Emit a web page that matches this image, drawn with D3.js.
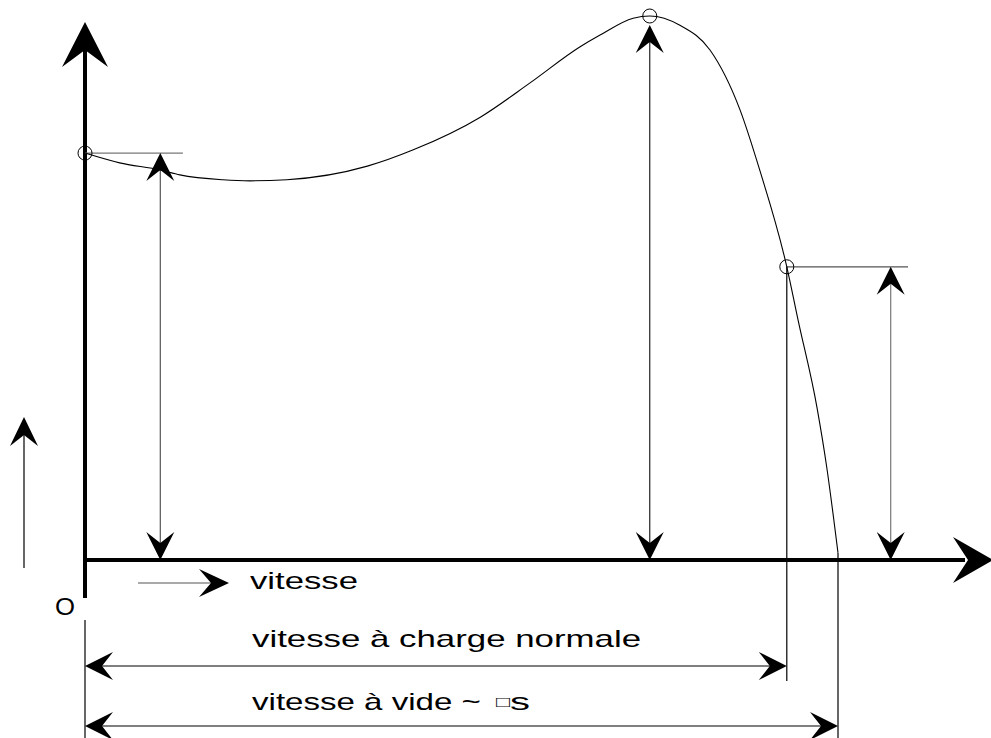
<!DOCTYPE html>
<html><head><meta charset="utf-8">
<script src="https://cdn.jsdelivr.net/npm/d3@7"></script>
<style>html,body{margin:0;padding:0;background:#fff;}svg{display:block;}</style>
</head><body>
<svg id="c" width="991" height="738"></svg>
<script>
// Torque-speed curve of an asynchronous motor (speed in % of synchronous speed, torque in % of max torque)
const speed  = [0, 4.6, 10.0, 12.6, 18.3, 21.9, 26.8, 37.5, 43.6, 52.5, 59.1, 65.7, 68.4, 72.8, 75.0, 79.0, 83.0, 87.0, 89.6, 93.2, 94.7, 97.2, 98.5, 100.0];
const torque = [74.8, 73.0, 71.7, 70.8, 69.9, 69.7, 69.9, 72.4, 75.4, 81.4, 87.7, 94.3, 96.5, 99.6, 100, 98.3, 93.75, 82.7, 71.7, 53.9, 44.1, 28.1, 17.1, 1.3];
// remarkable points: starting torque, maximum torque, nominal point
const markSpeed  = [0, 75.0, 93.2];
const markTorque = [74.8, 100, 53.9];
// dimension arrows (speed positions)
const startArrowSpeed = 10.0;
const nominalArrowSpeed = 107.0;
const labels = ["vitesse", "O", "vitesse à charge normale", "vitesse à vide ~ ", "□", "s"];

const svg = d3.select("#c");
const x = d3.scaleLinear().domain([0, 100]).range([85, 838]);
const y = d3.scaleLinear().domain([0, 100]).range([560, 16]);

function head(tx, ty, dir, L, W, N) {
  const c = Math.cos(dir), s = Math.sin(dir);
  const bx = tx - c * L, by = ty - s * L;
  const nx = tx - c * N, ny = ty - s * N;
  const px = -s * W, py = c * W;
  return `M${tx},${ty}L${bx + px},${by + py}L${nx},${ny}L${bx - px},${by - py}Z`;
}
const UP = -Math.PI / 2, DOWN = Math.PI / 2, RIGHT = 0, LEFT = Math.PI;
const g = svg.append("g");
function line(x1, y1, x2, y2, col, w) {
  g.append("line").attr("x1", x1).attr("y1", y1).attr("x2", x2).attr("y2", y2)
    .attr("stroke", col || "#000").attr("stroke-width", w || 1);
}
function arrowHead(tx, ty, dir, L, W, N) {
  g.append("path").attr("d", head(tx, ty, dir, L, W, N)).attr("fill", "#000");
}

// main axes
const x0 = x(0), y0 = y(0);
line(x0, 598, x0, 50, "#000", 4);
arrowHead(x0, 22, UP, 45, 23, 28);
line(x0 - 2, y0, 965, y0, "#000", 4);
arrowHead(993, y0, RIGHT, 40, 23, 25);

// start torque tick + double arrow
line(x(0), y(markTorque[0]), x(13), y(markTorque[0]), "#777", 1.2);
line(x(startArrowSpeed), y(markTorque[0]) + 15, x(startArrowSpeed), y0 - 15, "#555", 1.2);
arrowHead(x(startArrowSpeed), y(markTorque[0]), UP, 28, 14, 17);
arrowHead(x(startArrowSpeed), y0, DOWN, 28, 14, 17);

// max torque double arrow
line(x(markSpeed[1]), y(markTorque[1]) + 20, x(markSpeed[1]), y0 - 15, "#222", 1.2);
arrowHead(x(markSpeed[1]), y(markTorque[1]) + 9, UP, 28, 14, 17);
arrowHead(x(markSpeed[1]), y0, DOWN, 28, 14, 17);

// nominal torque tick + double arrow
line(x(markSpeed[2]), y(markTorque[2]), x(109.3), y(markTorque[2]), "#555", 1.2);
line(x(nominalArrowSpeed), y(markTorque[2]) + 15, x(nominalArrowSpeed), y0 - 15, "#777", 1.2);
arrowHead(x(nominalArrowSpeed), y(markTorque[2]), UP, 28, 14, 17);
arrowHead(x(nominalArrowSpeed), y0, DOWN, 28, 14, 17);

// extension lines
line(x(0), 620, x(0), 738, "#000", 1.2);
line(x(markSpeed[2]), y(markTorque[2]), x(markSpeed[2]), 681, "#000", 1.2);
line(x(100), y(torque[torque.length - 1]), x(100), 738, "#000", 1.2);

// horizontal dimension arrows
const yN = 666, yV = 726;
line(x(0) + 15, yN, x(markSpeed[2]) - 15, yN, "#000", 1.2);
arrowHead(x(0), yN, LEFT, 28, 14, 17);
arrowHead(x(markSpeed[2]), yN, RIGHT, 28, 14, 17);
line(x(0) + 15, yV, x(100) - 15, yV, "#000", 1.2);
arrowHead(x(0), yV, LEFT, 28, 14, 17);
arrowHead(x(100), yV, RIGHT, 28, 14, 17);

// small axis-direction arrows
line(24, 568, 24, 430, "#000", 1.2);
arrowHead(24, 417, UP, 29, 14, 18);
line(138, 583, 215, 583, "#555", 1.2);
arrowHead(229, 583, RIGHT, 30, 14, 18);

// curve
const pts = speed.map((s, i) => [s, torque[i]]);
g.append("path").datum(pts)
  .attr("d", d3.line().x(d => x(d[0])).y(d => y(d[1])).curve(d3.curveMonotoneX))
  .attr("fill", "none").attr("stroke", "#000").attr("stroke-width", 1.1);

// remarkable points
g.selectAll("circle.m").data(markSpeed).join("circle")
  .attr("cx", (d) => x(d)).attr("cy", (d, i) => y(markTorque[i])).attr("r", 7)
  .attr("fill", "none").attr("stroke", "#000").attr("stroke-width", 1);

// texts
const font = "'Liberation Sans', Arial, sans-serif";
function txt(t, tx, ty, len, size) {
  const e = g.append("text").attr("x", tx).attr("y", ty).text(t)
    .attr("font-family", font).attr("font-size", size || 24).attr("fill", "#000");
  if (len) e.attr("textLength", len).attr("lengthAdjust", "spacingAndGlyphs");
  return e;
}
txt(labels[0], 250, 589, 108);
txt(labels[1], 55, 615, 20, 24);
txt(labels[2], 252, 647, 389);
const t2 = g.append("text").attr("x", 252).attr("y", 710)
  .attr("font-family", font).attr("font-size", 24).attr("fill", "#000");
t2.append("tspan").text(labels[3]).attr("textLength", 238).attr("lengthAdjust", "spacingAndGlyphs");
t2.append("tspan").text(labels[4]).attr("x", 496).attr("y", 707).attr("font-size", 15)
  .attr("textLength", 14).attr("lengthAdjust", "spacingAndGlyphs");
t2.append("tspan").text(labels[5]).attr("x", 510).attr("y", 710).attr("textLength", 20)
  .attr("lengthAdjust", "spacingAndGlyphs");
</script>
</body></html>
